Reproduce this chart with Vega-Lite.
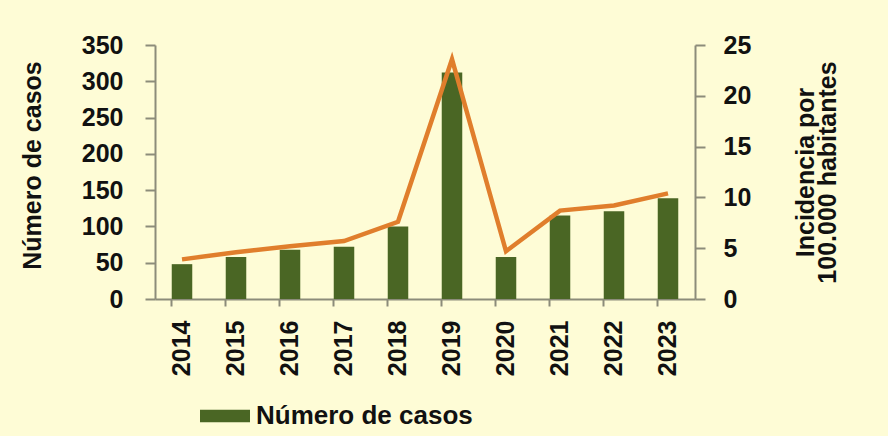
{
  "$schema": "https://vega.github.io/schema/vega-lite/v6.json",
  "width": 540,
  "height": 254,
  "autosize": {"type": "none"},
  "padding": {"left": 155, "top": 45, "right": 193, "bottom": 137},
  "background": "#FEFCD6",
  "config": {
    "view": {"stroke": null},
    "font": "Liberation Sans",
    "axis": {
      "labelFont": "Liberation Sans",
      "labelFontWeight": "bold",
      "labelFontSize": 25,
      "labelColor": "#111111",
      "titleFont": "Liberation Sans",
      "titleFontWeight": "bold",
      "titleFontSize": 25,
      "titleColor": "#111111",
      "domainColor": "#8C8C7A",
      "domainWidth": 2,
      "tickColor": "#8C8C7A",
      "tickWidth": 2,
      "grid": false
    }
  },
  "data": {
    "values": [
      {"year": "2014", "casos": 48, "incidencia": 3.9},
      {"year": "2015", "casos": 58, "incidencia": 4.6},
      {"year": "2016", "casos": 68, "incidencia": 5.2},
      {"year": "2017", "casos": 72, "incidencia": 5.7},
      {"year": "2018", "casos": 100, "incidencia": 7.6},
      {"year": "2019", "casos": 312, "incidencia": 23.6},
      {"year": "2020", "casos": 58, "incidencia": 4.7},
      {"year": "2021", "casos": 115, "incidencia": 8.7},
      {"year": "2022", "casos": 121, "incidencia": 9.2},
      {"year": "2023", "casos": 139, "incidencia": 10.4}
    ]
  },
  "encoding": {
    "x": {
      "field": "year",
      "type": "ordinal",
      "scale": {"paddingInner": 0.62, "paddingOuter": 0.31},
      "axis": {
        "title": null,
        "labelAngle": -90,
        "labelAlign": "right",
        "labelBaseline": "middle",
        "tickSize": 7,
        "labelPadding": 14,
        "bandPosition": 0
      }
    }
  },
  "layer": [
    {
      "mark": {"type": "bar", "color": "#4A6624"},
      "encoding": {
        "y": {
          "field": "casos",
          "type": "quantitative",
          "scale": {"domain": [0, 350]},
          "axis": {
            "title": "Número de casos",
            "values": [0, 50, 100, 150, 200, 250, 300, 350],
            "tickSize": 10,
            "labelPadding": 22,
            "titleX": -123,
            "titleY": 120,
            "titleAngle": -90,
            "titleBaseline": "middle"
          }
        },
        "color": {
          "datum": "Número de casos",
          "type": "nominal",
          "scale": {"range": ["#4A6624"]},
          "legend": {
            "title": null,
            "orient": "none",
            "legendX": 45,
            "legendY": 346,
            "symbolType": "M-1,-0.25H1V0.25H-1Z",
            "symbolSize": 2500,
            "symbolStrokeWidth": 0,
            "symbolOpacity": 1,
            "labelFont": "Liberation Sans",
            "labelFontWeight": "bold",
            "labelFontSize": 26,
            "labelColor": "#111111",
            "labelOffset": 6,
            "labelLimit": 400
          }
        }
      }
    },
    {
      "mark": {"type": "line", "color": "#E07E2C", "strokeWidth": 4.5, "strokeJoin": "miter"},
      "encoding": {
        "y": {
          "field": "incidencia",
          "type": "quantitative",
          "scale": {"domain": [0, 25]},
          "axis": {
            "orient": "right",
            "title": ["Incidencia por", "100.000 habitantes"],
            "values": [0, 5, 10, 15, 20, 25],
            "tickSize": 10,
            "labelPadding": 18,
            "titleAngle": -90,
            "titleX": 110,
            "titleY": 127,
            "titleAlign": "center",
            "titleBaseline": "middle",
            "titleLineHeight": 22
          }
        }
      }
    }
  ],
  "resolve": {"scale": {"y": "independent"}}
}
